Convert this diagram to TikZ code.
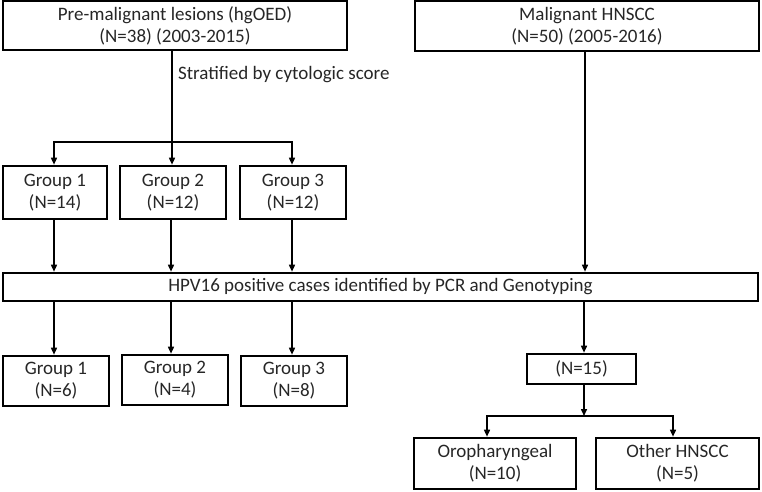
\documentclass[tikz,border=0pt]{standalone}
\usepackage{fontspec}
\setmainfont{Carlito}
\usetikzlibrary{arrows.meta}

\begin{document}
\begin{tikzpicture}[x=1pt,y=-1pt]
\tikzstyle{every node}=[font=\fontsize{19}{22}\selectfont,text=black!85]
\tikzstyle{flowbox}=[draw=black,line width=2.6pt,align=center,inner sep=0pt]
\tikzstyle{flowline}=[line width=1.5pt]
\tikzstyle{flowarrow}=[flowline,-{Triangle[length=7pt,width=6pt]}]

\useasboundingbox (0,0) rectangle (762,491);

%% Draw the two source boxes
\node [flowbox,minimum width=344pt,minimum height=49pt] (pre) at (175,25.5)
    {Pre-malignant lesions (hgOED)\\(N=38) (2003-2015)};
\node [flowbox,minimum width=344pt,minimum height=50pt] (mal) at (587,26)
    {Malignant HNSCC\\(N=50) (2005-2016)};

%% Draw cytologic groups
\node [flowbox,minimum width=104pt,minimum height=53pt] (grpA) at (55,192.5) {Group 1\\(N=14)};
\node [flowbox,minimum width=106pt,minimum height=53pt] (grpB) at (173,192.5) {Group 2\\(N=12)};
\node [flowbox,minimum width=106pt,minimum height=53pt] (grpC) at (293,192.5) {Group 3\\(N=12)};

%% Draw HPV16 screening box
\node [flowbox,minimum width=755pt,minimum height=28pt] (hpv) at (380.5,287)
    {HPV16 positive cases identified by PCR and Genotyping};

%% Draw HPV16 positive groups
\node [flowbox,minimum width=106pt,minimum height=50pt] (posA) at (56,381) {Group 1\\(N=6)};
\node [flowbox,minimum width=106pt,minimum height=50pt] (posB) at (175,380) {Group 2\\(N=4)};
\node [flowbox,minimum width=106pt,minimum height=50pt] (posC) at (294,381) {Group 3\\(N=8)};
\node [flowbox,minimum width=109pt,minimum height=30pt] (posH) at (581.5,369) {(N=15)};
\node [flowbox,minimum width=162pt,minimum height=51pt] (oro) at (495,463.5) {Oropharyngeal\\(N=10)};
\node [flowbox,minimum width=163pt,minimum height=51pt] (oth) at (677.5,463.5) {Other HNSCC\\(N=5)};

%% Split points
\coordinate (splitA) at (172,142);
\coordinate (splitB) at (584,416);

%% Connectors
\draw [flowline] ([xshift=-3pt]pre.south) -- node [pos=0.26,right=2pt] {Stratified by cytologic score} (splitA);
\draw [flowarrow] (splitA) -| ([xshift=-1pt]grpA.north);
\draw [flowarrow] (splitA) -- (splitA |- grpB.north);
\draw [flowarrow] (splitA) -| ([xshift=-1pt]grpC.north);

\draw [flowarrow] ([xshift=-1pt]grpA.south) -- ([xshift=-1pt]grpA.south |- hpv.north);
\draw [flowarrow] ([xshift=-2pt]grpB.south) -- ([xshift=-2pt]grpB.south |- hpv.north);
\draw [flowarrow] ([xshift=-1pt]grpC.south) -- ([xshift=-1pt]grpC.south |- hpv.north);
\draw [flowarrow] ([xshift=-2pt]mal.south) -- ([xshift=-2pt]mal.south |- hpv.north);

\draw [flowarrow] ([xshift=-2pt]posA.north |- hpv.south) -- ([xshift=-2pt]posA.north);
\draw [flowarrow] ([xshift=-4pt]posB.north |- hpv.south) -- ([xshift=-4pt]posB.north);
\draw [flowarrow] ([xshift=-2pt]posC.north |- hpv.south) -- ([xshift=-2pt]posC.north);
\draw [flowarrow] (splitB |- hpv.south) -- (splitB |- posH.north);

\draw [flowarrow] (splitB |- posH.south) -- (splitB);
\draw [flowarrow] (splitB) -| ([xshift=-8pt]oro.north);
\draw [flowarrow] (splitB) -| ([xshift=-4.5pt]oth.north);
\end{tikzpicture}
\end{document}
